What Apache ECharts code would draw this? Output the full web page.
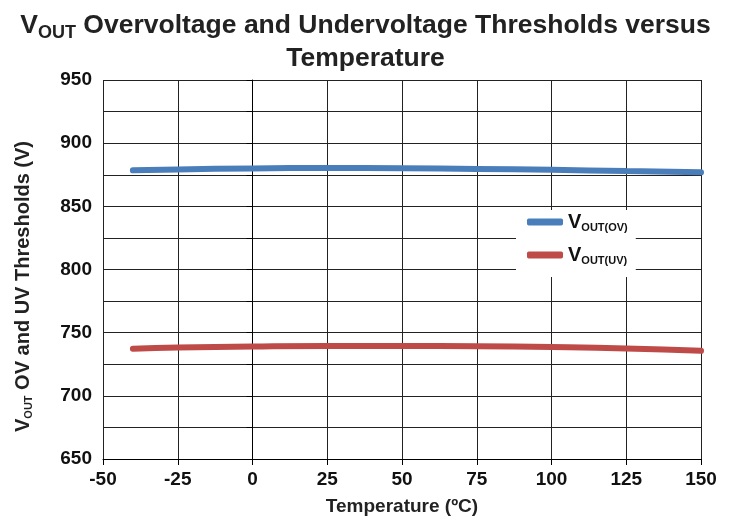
<!DOCTYPE html>
<html><head><meta charset="utf-8">
<script src="https://cdn.jsdelivr.net/npm/echarts@6/dist/echarts.min.js"></script>
<style>html,body{margin:0;padding:0;background:#fff}#c{width:731px;height:521px}</style>
</head><body><div id="c"></div>
<script>
const temps = [-40, -25, 0, 25, 50, 75, 100, 125, 150];
const ovValues = [878.5, 879.2, 880.0, 880.3, 880.1, 879.6, 878.9, 877.9, 876.9];
const uvValues = [737.3, 738.2, 739.0, 739.4, 739.4, 739.2, 738.6, 737.5, 735.6];
const seriesNames = ['VOUT(OV)', 'VOUT(UV)'];
const seriesColors = ['#4a7ebb', '#be4b48'];
const font = '"Liberation Sans", Arial, sans-serif';

const chart = echarts.init(document.getElementById('c'));
const pair = (xs, ys) => xs.map((x, i) => [x, ys[i]]);
chart.setOption({
  animation: false,
  backgroundColor: '#fff',
  title: {
    text: '{v|V}{s|OUT}{t| Overvoltage and Undervoltage Thresholds versus}\n{t|Temperature}',
    left: 'center', top: 4,
    textStyle: {
      fontFamily: font, fontWeight: 'bold', fontSize: 26.5, color: '#222', lineHeight: 33,
      rich: {
        v: {fontFamily: font, fontWeight: 'bold', fontSize: 26.5, color: '#222', lineHeight: 33},
        s: {fontFamily: font, fontWeight: 'bold', fontSize: 18, color: '#222', verticalAlign: 'bottom', lineHeight: 27},
        t: {fontFamily: font, fontWeight: 'bold', fontSize: 26.5, color: '#222', lineHeight: 33}
      }
    }
  },
  grid: {left: 103, right: 30, top: 80, bottom: 60, containLabel: false},
  legend: {
    data: seriesNames,
    orient: 'vertical',
    left: 516, top: 210,
    backgroundColor: '#fff',
    padding: [1, 8, 11, 11],
    itemGap: 11,
    itemWidth: 36, itemHeight: 7,
    icon: 'roundRect',
    formatter: n => '{v|V}{s|' + n.slice(1) + '}',
    textStyle: {
      fontFamily: font, fontWeight: 'bold', color: '#111', lineHeight: 22,
      rich: {
        v: {fontFamily: font, fontWeight: 'bold', fontSize: 20, color: '#111', lineHeight: 22},
        s: {fontFamily: font, fontWeight: 'bold', fontSize: 11, color: '#111', verticalAlign: 'bottom', lineHeight: 22, padding: [10, 0, 0, 0]}
      }
    }
  },
  xAxis: {
    type: 'value', min: -50, max: 150, interval: 25,
    name: 'Temperature (ºC)', nameLocation: 'middle', nameGap: 38,
    nameTextStyle: {fontFamily: font, fontWeight: 'bold', fontSize: 19, color: '#222'},
    axisLine: {show: true, lineStyle: {color: '#000', width: 1}},
    axisTick: {show: true, length: 6, lineStyle: {color: '#000'}},
    axisLabel: {fontFamily: font, fontWeight: 'bold', fontSize: 19, color: '#111', margin: 11},
    splitLine: {show: true, lineStyle: {color: '#222', width: 1}}
  },
  yAxis: {
    type: 'value', min: 650, max: 950, interval: 25,
    name: '{v|V}{s|OUT}{t| OV and UV Thresholds (V)}', nameLocation: 'middle', nameGap: 69, nameRotate: 90,
    nameTextStyle: {
      fontFamily: font, fontWeight: 'bold', fontSize: 20, color: '#222',
      padding: [0, 34, 0, 0],
      rich: {
        v: {fontFamily: font, fontWeight: 'bold', fontSize: 20, color: '#222'},
        s: {fontFamily: font, fontWeight: 'bold', fontSize: 11, color: '#222', verticalAlign: 'bottom', padding: [10, 0, 0, 0]},
        t: {fontFamily: font, fontWeight: 'bold', fontSize: 20, color: '#222'}
      }
    },
    axisLine: {show: true, lineStyle: {color: '#000', width: 1}},
    axisTick: {show: true, length: 6, lineStyle: {color: '#000'}},
    axisLabel: {
      fontFamily: font, fontWeight: 'bold', fontSize: 19, color: '#111', margin: 11,
      formatter: v => (v % 50 === 0 ? String(v) : '')
    },
    splitLine: {show: true, lineStyle: {color: '#222', width: 1}}
  },
  series: [
    {name: seriesNames[0], type: 'line', smooth: true, showSymbol: false, data: pair(temps, ovValues),
     color: seriesColors[0], lineStyle: {width: 6, color: seriesColors[0], cap: 'round'}},
    {name: seriesNames[1], type: 'line', smooth: true, showSymbol: false, data: pair(temps, uvValues),
     color: seriesColors[1], lineStyle: {width: 6, color: seriesColors[1], cap: 'round'}}
  ]
});
</script></body></html>
